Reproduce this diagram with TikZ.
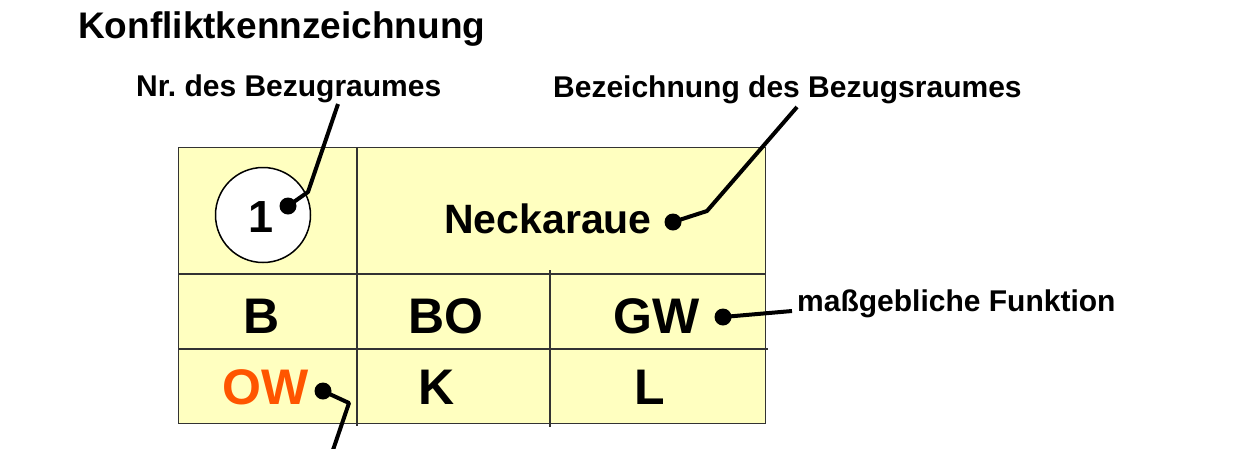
\documentclass[tikz,border=0pt]{standalone}
\usepackage{fontspec}
\setmainfont{Liberation Sans}
\definecolor{cellfill}{HTML}{FFFFC0}
\definecolor{owred}{HTML}{FF5500}
\definecolor{gridline}{HTML}{333333}
\frenchspacing
\begin{document}
\begin{tikzpicture}[x=1pt,y=-1pt,
  lbl/.style={font=\bfseries\fontsize{30}{32}\selectfont, inner sep=0, anchor=base west},
  celltxt/.style={font=\bfseries\fontsize{50}{52}\selectfont, inner sep=0, anchor=base},
  dotmark/.style={circle, fill=black, inner sep=0, minimum size=17pt},
  leader/.style={line width=4pt, line join=round},
  gridln/.style={draw=gridline, line width=1.3pt}]
\useasboundingbox (0,0) rectangle (1248,448);
% table
\node[draw=gridline, fill=cellfill, line width=1.3pt, minimum width=587pt, minimum height=276pt,
      inner sep=0, anchor=north west] (tab) at (178,147) {};
\draw[gridln] (178,274) -- (765,274);
\draw[gridln] (178,349) -- (768,349);
\draw[gridln] (357,147) -- (357,426);
\draw[gridln] (550,270) -- (550,427);
% title and labels
\node[font=\bfseries\fontsize{37}{40}\selectfont, inner sep=0, anchor=base west] (title) at (78,38) {Konfliktkennzeichnung};
\node[lbl] (lNr) at (136,96.5) {Nr. des Bezugraumes};
\node[lbl] (lBez) at (553,97) {Bezeichnung des Bezugsraumes};
\node[lbl] (lFkt) at (797,311) {maßgebliche Funktion};
% circle with number
\node[circle, draw=black, fill=white, line width=1.5pt, minimum size=95pt, inner sep=0] (circ) at (263,215) {};
\node[font=\bfseries\fontsize{45}{47}\selectfont, inner sep=0, anchor=base] (one) at (261,232) {1};
% cell texts
\node[font=\bfseries\fontsize{41}{44}\selectfont, inner sep=0, anchor=base] (neck) at (548,233) {Neckaraue};
\node[celltxt] (cB) at (262,333) {B};
\node[celltxt] (cBO) at (446,333) {BO};
\node[celltxt] (cGW) at (657,333) {GW};
\node[celltxt, text=owred] (cOW) at (266,404) {OW};
\node[celltxt] (cK) at (437,404) {K};
\node[celltxt] (cL) at (650,404) {L};
% dots
\node[dotmark] (dNr) at (288,206) {};
\node[dotmark] (dN) at (673,222) {};
\node[dotmark] (dGW) at (723,317) {};
\node[dotmark] (dOW) at (323,391) {};
% leader coordinates
\coordinate (bNr) at (308,192);
\coordinate (tNr) at (338,104);
\coordinate (bN) at (707,211);
\coordinate (tN) at (797,107);
\coordinate (tGW) at (792,311);
\coordinate (bOW) at (349,403);
\coordinate (tOW) at (333,450);
\draw[leader] (dNr.center) -- (bNr) -- (tNr);
\draw[leader] (dN.center) -- (bN) -- (tN);
\draw[leader] (dGW.center) -- (tGW);
\draw[leader] (dOW.center) -- (bOW) -- (tOW);
\end{tikzpicture}
\end{document}
